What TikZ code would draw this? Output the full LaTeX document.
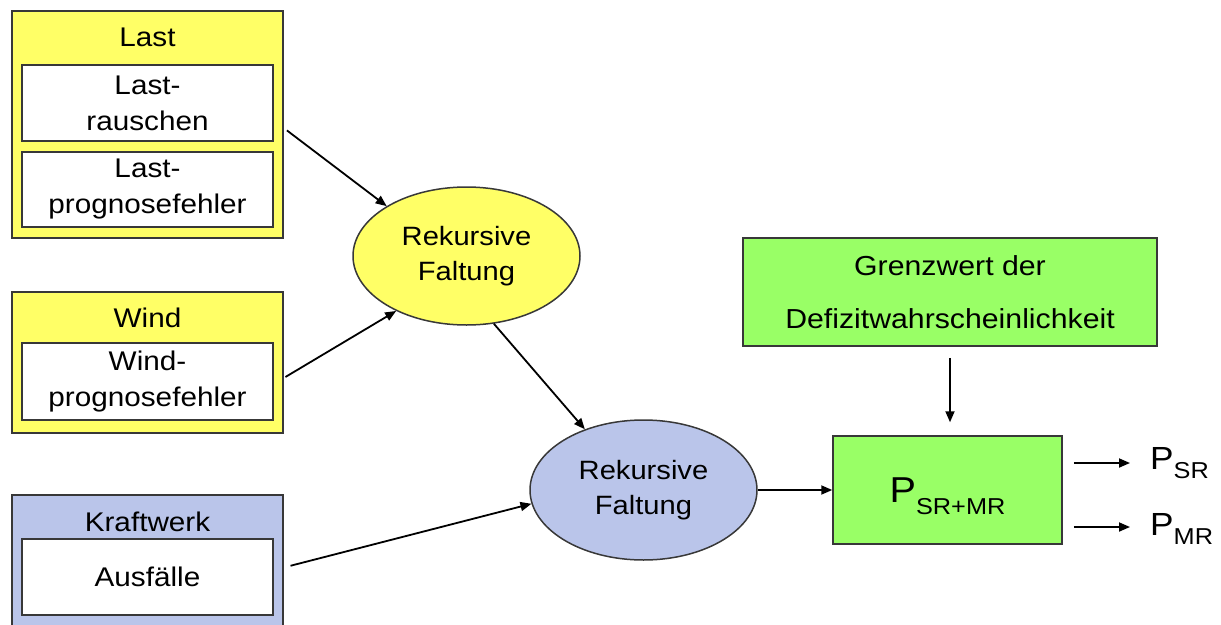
\documentclass[tikz,border=0pt]{standalone}
\usepackage{fontspec}
\setmainfont[FakeStretch=1.1]{Liberation Sans}
\usetikzlibrary{arrows.meta,shapes.geometric}

\definecolor{loadyellow}{HTML}{FFFF66}
\definecolor{plantblue}{HTML}{BAC5EA}
\definecolor{limitgreen}{HTML}{99FF66}
\definecolor{edgegray}{HTML}{383838}

\newcommand\fsz[2]{\fontsize{#1}{#2}\selectfont}

\tikzset{
  groupbox/.style={draw=edgegray, line width=1.5pt, inner sep=0pt, minimum width=271pt},
  itembox/.style={draw=edgegray, fill=white, line width=1.5pt, inner sep=0pt,
                  minimum width=251pt, align=center, font=\fsz{27}{36}},
  grouptitle/.style={inner sep=0pt, font=\fsz{27}{36}},
  convo/.style={ellipse, draw=edgegray, line width=1.5pt, inner sep=0pt,
                minimum width=227pt, align=center, font=\fsz{26.5}{35}},
  greenbox/.style={draw=edgegray, fill=limitgreen, line width=1.5pt, inner sep=0pt,
                   align=center},
  arr/.style={-{Triangle[length=11pt,width=9pt]}, line width=1.8pt},
}

\begin{document}
\begin{tikzpicture}[x=1pt,y=-1pt]
  \useasboundingbox (0,0) rectangle (1221,624);
  \fill[white] (0,0) rectangle (1221,624);
  \clip (0,0) rectangle (1221,624);

  % load group
  \node[groupbox, fill=loadyellow, minimum height=227pt] (last) at (147.5,124.5) {};
  \node[grouptitle] (lastT) at (147.5,37) {Last};
  \node[itembox, minimum height=76pt] (noise) at (147.5,103) {Last-\\rauschen};
  \node[itembox, minimum height=75pt] (lerr) at (147.5,189.5) {Last-\\prognosefehler};

  % wind group
  \node[groupbox, fill=loadyellow, minimum height=141pt] (wind) at (147.5,362.5) {};
  \node[grouptitle] (windT) at (147.5,318) {Wind};
  \node[itembox, minimum height=77pt] (werr) at (147.5,381.5) {Wind-\\prognosefehler};

  % power plant group
  \node[groupbox, fill=plantblue, minimum height=145pt] (plant) at (147.5,567.5) {};
  \node[grouptitle] (plantT) at (147.5,522) {Kraftwerk};
  \node[itembox, minimum height=76pt] (outage) at (147.5,577) {Ausfälle};

  % convolution steps
  \node[convo, fill=loadyellow, minimum height=138pt] (conv1) at (466.5,256) {Rekursive\\Faltung};
  \node[convo, fill=plantblue, minimum height=140pt] (conv2) at (643.5,490) {Rekursive\\Faltung};

  % threshold and result
  \node[greenbox, minimum width=414pt, minimum height=108pt, font=\fsz{27.5}{53}] (limit)
       at (950,292) {Grenzwert der\\Defizitwahrscheinlichkeit};
  \node[greenbox, minimum width=229pt, minimum height=108pt] (out) at (947.5,490)
       {{\fsz{36}{40}P}\smash{\raisebox{-12pt}{\fsz{23}{26}SR+MR}}};

  % outputs
  \node[anchor=base west, inner sep=0pt] (psr) at (1150,469)
       {{\fsz{32}{36}P}\raisebox{-9pt}{\fsz{23}{26}SR}};
  \node[anchor=base west, inner sep=0pt] (pmr) at (1150,535)
       {{\fsz{32}{36}P}\raisebox{-9pt}{\fsz{23}{26}MR}};

  % connectors
  \draw[arr, shorten <=4pt] ([yshift=-3.5pt]last.east) -- (conv1.148);
  \draw[arr, shorten <=2pt] ([yshift=-15.5pt]wind.east) -- (conv1.218);
  \draw[arr] (conv1.292) -- (conv2.134);
  \draw[arr, shorten <=7pt] (plant.east) -- (conv2.187);
  \draw[arr] (conv2.east) -- (out.west);
  \draw[arr, shorten <=11pt, shorten >=13pt] (limit.south) -- (limit.south |- out.north);
  \draw[arr, shorten <=11pt, shorten >=20pt] ([yshift=27pt]out.east) -- ([yshift=27pt]out.east -| psr.west);
  \draw[arr, shorten <=11pt, shorten >=20pt] ([yshift=-37pt]out.east) -- ([yshift=-37pt]out.east -| pmr.west);
\end{tikzpicture}
\end{document}
